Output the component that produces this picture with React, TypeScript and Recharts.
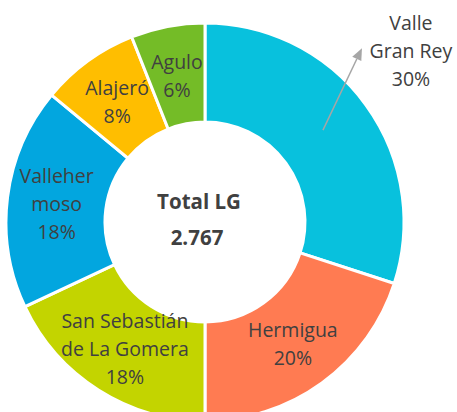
import { PieChart, Pie, Cell } from "recharts";

const municipios = ["Valle Gran Rey", "Hermigua", "San Sebastián de La Gomera", "Vallehermoso", "Alajeró", "Agulo"];
const labelLines = [["Valle", "Gran Rey"], ["Hermigua"], ["San Sebastián", "de La Gomera"], ["Valleher", "moso"], ["Alajeró"], ["Agulo"]];
const porcentajes = [30, 20, 18, 18, 8, 6];
const totalLabel = ["Total LG", "2.767"];

const COLORS = ["#08C1DD", "#FF7B52", "#C3D400", "#02A6DF", "#FFBE00", "#74BC27"];
const TEXT = "#404040";
const FONT = "'Open Sans', sans-serif";

const data = municipios.map((name, i) => ({ name, value: porcentajes[i], lines: labelLines[i] }));

const RAD = Math.PI / 180;

function renderLabel(props: any) {
  const { cx, cy, midAngle, innerRadius, outerRadius, percent, index } = props;
  const r = (innerRadius + outerRadius) / 2;
  const ax = cx + r * Math.cos(-midAngle * RAD);
  const ay = cy + r * Math.sin(-midAngle * RAD);
  const lines: string[] = [...data[index].lines, `${Math.round(percent * 100)}%`];
  const lh = 28;
  let tx = ax;
  let ty = ay;
  let extra = null;
  if (index === 0) {
    // label moved outside with an arrow, plus the total in the hole
    tx = ax + 85;
    ty = ay - 84;
    const sx = ax - 3;
    const sy = ay - 4;
    const ex = ax + 36;
    const ey = ay - 86;
    const ang = Math.atan2(ey - sy, ex - sx);
    const hl = 12;
    const hw = 5;
    const bx = ex - hl * Math.cos(ang);
    const by = ey - hl * Math.sin(ang);
    extra = (
      <g>
        <line x1={sx} y1={sy} x2={bx} y2={by} stroke="#A6A6A6" strokeWidth={1.5} />
        <polygon
          points={`${ex},${ey} ${bx + hw * Math.sin(ang)},${by - hw * Math.cos(ang)} ${bx - hw * Math.sin(ang)},${by + hw * Math.cos(ang)}`}
          fill="#A6A6A6"
        />
        <text textAnchor="middle" fill={TEXT} fontSize={20.5} fontWeight="bold" fontFamily={FONT}>
          <tspan x={cx - 6} y={cy - 21} dominantBaseline="central">{totalLabel[0]}</tspan>
          <tspan x={cx - 8} y={cy + 15} dominantBaseline="central">{totalLabel[1]}</tspan>
        </text>
      </g>
    );
  }
  const y0 = ty - ((lines.length - 1) * lh) / 2;
  return (
    <g key={`lbl-${index}`}>
      {extra}
      <text x={tx} y={y0} textAnchor="middle" dominantBaseline="central" fill={TEXT} fontSize={19.5} fontFamily={FONT}>
        {lines.map((l, i) => (
          <tspan key={i} x={tx} y={y0 + i * lh}>
            {l}
          </tspan>
        ))}
      </text>
    </g>
  );
}

export default function App() {
  return (
    <div style={{ position: "absolute", left: 0, top: 0 }}>
      <PieChart width={457} height={412} margin={{ top: 0, right: 0, bottom: 0, left: 0 }}>
        <Pie
          data={data}
          dataKey="value"
          nameKey="name"
          cx={205}
          cy={222}
          innerRadius={100}
          outerRadius={199}
          startAngle={90}
          endAngle={-270}
          stroke="#FFFFFF"
          strokeWidth={3}
          label={renderLabel}
          labelLine={false}
          isAnimationActive={false}
        >
          {data.map((_, i) => (
            <Cell key={`cell-${i}`} fill={COLORS[i]} />
          ))}
        </Pie>
      </PieChart>
    </div>
  );
}
